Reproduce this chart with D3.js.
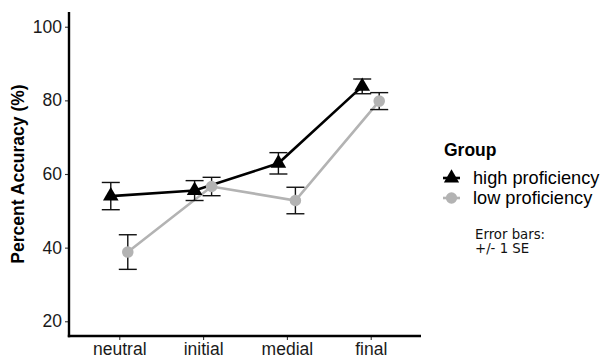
<!DOCTYPE html>
<html>
<head>
<meta charset="utf-8">
<script src="https://cdn.jsdelivr.net/npm/d3@7"></script>
<style>
  body { margin: 0; background: #fff; }
  svg { display: block; font-family: "Liberation Sans", Arial, sans-serif; }
</style>
</head>
<body>
<div id="chart"></div>
<script>
const positions = ['neutral', 'initial', 'medial', 'final'];
const groups = ['high proficiency', 'low proficiency'];
const highMean = [54.0, 55.5, 62.9, 83.8];
const highSE = [3.7, 2.7, 2.9, 2.0];
const lowMean = [38.8, 56.6, 52.8, 79.8];
const lowSE = [4.7, 2.5, 3.6, 2.3];
const yTicks = [20, 40, 60, 80, 100];

const W = 606, H = 356;
const panel = { left: 69, right: 421, top: 12, bottom: 336 };

const svg = d3.select('#chart').append('svg').attr('width', W).attr('height', H);

// discrete x scale with ggplot-like 0.6 expansion
const x = d3.scalePoint().domain(positions).range([panel.left, panel.right]).padding(0.6);
const dodge = 8.5;
const y = d3.scaleLinear().domain([16, 104]).range([panel.bottom, panel.top]);

const series = [
  { name: groups[0], mean: highMean, se: highSE, color: '#000000', shape: d3.symbolTriangle, off: -dodge },
  { name: groups[1], mean: lowMean, se: lowSE, color: '#b3b3b3', shape: d3.symbolCircle, off: dodge }
];

// axes
const yAxis = svg.append('g').attr('transform', `translate(${panel.left},0)`)
  .call(d3.axisLeft(y).tickValues(yTicks).tickSize(4).tickPadding(3));
const xAxis = svg.append('g').attr('transform', `translate(0,${panel.bottom})`)
  .call(d3.axisBottom(x).tickSize(4).tickPadding(3));
[yAxis, xAxis].forEach(a => {
  a.select('.domain').remove();
  a.selectAll('.tick line').attr('stroke', '#333').attr('stroke-width', 1.1);
  a.selectAll('.tick text').attr('fill', '#1a1a1a').style('font-size', '17.5px')
    .style('font-family', '"Liberation Sans", Arial, sans-serif');
});
svg.append('line').attr('x1', panel.left).attr('x2', panel.left).attr('y1', panel.top).attr('y2', panel.bottom + 1.2)
  .attr('stroke', '#000').attr('stroke-width', 2.4);
svg.append('line').attr('x1', panel.left - 1.2).attr('x2', panel.right).attr('y1', panel.bottom).attr('y2', panel.bottom)
  .attr('stroke', '#000').attr('stroke-width', 2.4);

// series: lines, error bars, points
series.forEach(s => {
  const px = (d, i) => x(positions[i]) + s.off;
  const line = d3.line().x(px).y(d => y(d));
  svg.append('path').datum(s.mean).attr('d', line)
    .attr('fill', 'none').attr('stroke', s.color).attr('stroke-width', 2.6);
});
series.forEach(s => {
  const g = svg.append('g');
  s.mean.forEach((m, i) => {
    const cx = x(positions[i]) + s.off;
    const lo = y(m - s.se[i]), hi = y(m + s.se[i]);
    g.append('line').attr('x1', cx).attr('x2', cx).attr('y1', lo).attr('y2', hi)
      .attr('stroke', '#111').attr('stroke-width', 1.4);
    [lo, hi].forEach(yy => g.append('line').attr('x1', cx - 9).attr('x2', cx + 9)
      .attr('y1', yy).attr('y2', yy).attr('stroke', '#111').attr('stroke-width', 1.4));
  });
});
series.forEach(s => {
  svg.append('g').selectAll('path').data(s.mean).join('path')
    .attr('transform', (d, i) => `translate(${x(positions[i]) + s.off},${y(d)})`)
    .attr('d', d3.symbol().type(s.shape).size(105))
    .attr('fill', s.color);
});

// y title
svg.append('text').attr('transform', `translate(24,${(panel.top + panel.bottom) / 2}) rotate(-90)`)
  .attr('text-anchor', 'middle').style('font-size', '17.5px').style('font-weight', 'bold')
  .text('Percent Accuracy (%)');

// legend
const lg = svg.append('g').attr('transform', 'translate(444,0)');
lg.append('text').attr('x', 0).attr('y', 156).style('font-size', '17.5px').style('font-weight', 'bold').text('Group');
series.forEach((s, i) => {
  const cy = 178 + i * 20;
  lg.append('line').attr('x1', -1).attr('x2', 16).attr('y1', cy).attr('y2', cy)
    .attr('stroke', s.color).attr('stroke-width', 2.6);
  lg.append('path').attr('transform', `translate(7.5,${cy})`)
    .attr('d', d3.symbol().type(s.shape).size(100)).attr('fill', s.color);
  lg.append('text').attr('x', 29).attr('y', cy + 6).style('font-size', '18.2px').text(s.name);
});
const note = svg.append('text').style('font-family', '"DejaVu Sans", sans-serif').style('font-size', '13.3px').attr('fill', '#111');
note.append('tspan').attr('x', 475).attr('y', 239).text('Error bars:');
note.append('tspan').attr('x', 475).attr('y', 253).text('+/- 1 SE');
</script>
</body>
</html>
